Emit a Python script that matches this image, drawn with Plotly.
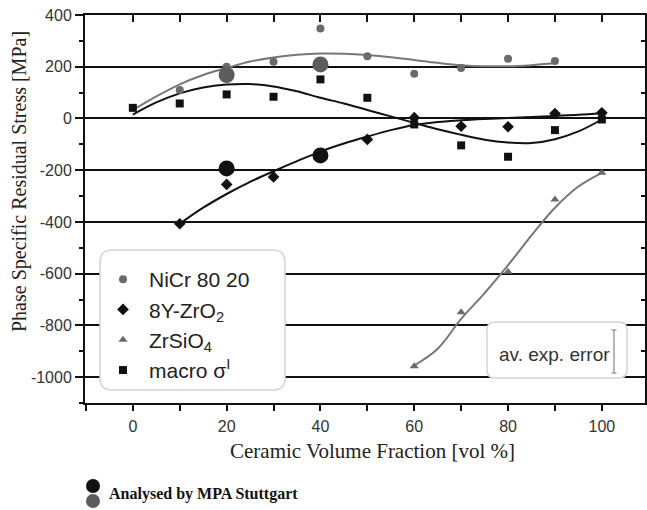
import plotly.graph_objects as go

# ---------------- data ----------------
nicr_x = [10, 20, 30, 40, 50, 60, 70, 80, 90]
nicr_y = [110, 200, 219, 348, 241, 173, 195, 231, 222]

zro2_x = [10, 20, 30, 50, 60, 70, 80, 90, 100]
zro2_y = [-407, -255, -226, -81, 3, -30, -32, 19, 22]

zrsio4_x = [60, 70, 80, 90, 100]
zrsio4_y = [-958, -749, -593, -313, -210]

macro_x = [0, 10, 20, 30, 40, 50, 60, 70, 80, 90, 100]
macro_y = [41, 58, 93, 84, 151, 80, -23, -104, -148, -45, -4]

mpa_black_x = [20, 40]
mpa_black_y = [-193, -143]
mpa_gray_x = [20, 40]
mpa_gray_y = [168, 209]

# fitted trend curves
nicr_fit_x = [0, 5, 10, 15, 20, 25, 30, 35, 40, 45, 50, 55, 60, 65, 70, 75, 80, 85, 90]
nicr_fit_y = [32, 85, 132, 168, 195, 220, 236, 246, 251, 250, 245, 237, 226, 215, 206, 202, 202, 206, 213]

macro_fit_x = [0, 5, 10, 15, 20, 25, 30, 35, 40, 45, 50, 55, 60, 65, 70, 75, 80, 85, 90, 95, 100]
macro_fit_y = [15, 62, 97, 120, 131, 133, 124, 105, 80, 58, 33, 8, -17, -42, -63, -82, -93, -95, -80, -50, -4]

zro2_fit_x = [10, 15, 20, 25, 30, 35, 40, 45, 50, 55, 60, 65, 70, 75, 80, 85, 90, 95, 100]
zro2_fit_y = [-407, -345, -292, -245, -204, -165, -128, -97, -70, -45, -25, -14, -7, -2, 2, 6, 10, 14, 20]

zrsio4_fit_x = [60, 65, 70, 75, 80, 85, 90, 95, 100]
zrsio4_fit_y = [-955, -890, -775, -675, -567, -452, -345, -263, -210]

legend_names = ["NiCr 80 20", "8Y-ZrO<sub>2</sub>", "ZrSiO<sub>4</sub>", "macro σ<sup>I</sup>"]

x_tickvals = [0, 20, 40, 60, 80, 100]
x_ticktext = ["0", "20", "40", "60", "80", "100"]
y_tickvals = [400, 200, 0, -200, -400, -600, -800, -1000]
y_ticktext = ["400", "200", "0", "-200", "-400", "-600", "-800", "-1000"]

x_title = "Ceramic Volume Fraction [vol %]"
y_title = "Phase Specific Residual Stress [MPa]"
note_text = "Analysed by MPA Stuttgart"
err_text = "av. exp. error"

# ---------------- styling ----------------
GRAY = "#6a6a6a"
LGRAY = "#777777"
BLACK = "#111111"
W, H = 647, 510
ML, MR, MT, MB = 85, 2, 15, 107
PW, PH = W - ML - MR, H - MT - MB


def px(x):
    return (x - ML) / PW


def py(y):
    return 1 - (y - MT) / PH


def rrect(x0, y0, x1, y1, r):
    return (
        f"M {px(x0 + r)},{py(y0)} L {px(x1 - r)},{py(y0)} "
        f"Q {px(x1)},{py(y0)} {px(x1)},{py(y0 + r)} "
        f"L {px(x1)},{py(y1 - r)} Q {px(x1)},{py(y1)} {px(x1 - r)},{py(y1)} "
        f"L {px(x0 + r)},{py(y1)} Q {px(x0)},{py(y1)} {px(x0)},{py(y1 - r)} "
        f"L {px(x0)},{py(y0 + r)} Q {px(x0)},{py(y0)} {px(x0 + r)},{py(y0)} Z"
    )


fig = go.Figure()

# curves
fig.add_trace(go.Scatter(x=nicr_fit_x, y=nicr_fit_y, mode="lines", line=dict(color=LGRAY, width=2, shape="spline"), showlegend=False, hoverinfo="skip"))
fig.add_trace(go.Scatter(x=macro_fit_x, y=macro_fit_y, mode="lines", line=dict(color=BLACK, width=2, shape="spline"), showlegend=False, hoverinfo="skip"))
fig.add_trace(go.Scatter(x=zro2_fit_x, y=zro2_fit_y, mode="lines", line=dict(color=BLACK, width=2, shape="spline"), showlegend=False, hoverinfo="skip"))
fig.add_trace(go.Scatter(x=zrsio4_fit_x, y=zrsio4_fit_y, mode="lines", line=dict(color=LGRAY, width=2, shape="spline"), showlegend=False, hoverinfo="skip"))

# markers
fig.add_trace(go.Scatter(x=nicr_x, y=nicr_y, mode="markers", name=legend_names[0],
                         marker=dict(symbol="circle", size=8, color=GRAY)))
fig.add_trace(go.Scatter(x=zro2_x, y=zro2_y, mode="markers", name=legend_names[1],
                         marker=dict(symbol="diamond", size=9, color=BLACK)))
fig.add_trace(go.Scatter(x=zrsio4_x, y=zrsio4_y, mode="markers", name=legend_names[2],
                         marker=dict(symbol="triangle-up", size=8, color=GRAY)))
fig.add_trace(go.Scatter(x=macro_x, y=macro_y, mode="markers", name=legend_names[3],
                         marker=dict(symbol="square", size=8, color=BLACK)))
fig.add_trace(go.Scatter(x=mpa_black_x, y=mpa_black_y, mode="markers", showlegend=False,
                         marker=dict(symbol="circle", size=16, color=BLACK)))
fig.add_trace(go.Scatter(x=mpa_gray_x, y=mpa_gray_y, mode="markers", showlegend=False,
                         marker=dict(symbol="circle", size=16, color="#5c5c5c")))

# dummy trace for mirrored top/right axes
fig.add_trace(go.Scatter(x=[None], y=[None], xaxis="x2", yaxis="y2", showlegend=False, hoverinfo="skip"))

XR = [-10.2, 109.2]
YR = [-1100, 400]
tickfont = dict(family="Liberation Sans, Arial", size=16, color="#333333")

fig.update_layout(
    width=W, height=H,
    margin=dict(l=ML, r=MR, t=MT, b=MB),
    paper_bgcolor="white", plot_bgcolor="white",
    xaxis=dict(range=XR, tickmode="array", tickvals=x_tickvals, ticktext=x_ticktext,
               ticks="outside", ticklen=6, tickwidth=2, tickcolor=BLACK,
               minor=dict(tick0=0, dtick=10, ticks="outside", ticklen=6, tickwidth=2, tickcolor=BLACK),
               showline=True, linewidth=2, linecolor=BLACK, showgrid=False, zeroline=False,
               tickfont=tickfont, ticklabelstandoff=2),
    yaxis=dict(range=YR, tickmode="array", tickvals=y_tickvals, ticktext=y_ticktext,
               ticks="outside", ticklen=8, tickwidth=2, tickcolor=BLACK,
               minor=dict(tick0=0, dtick=100, ticks="outside", ticklen=4, tickwidth=2, tickcolor=BLACK),
               showline=True, linewidth=2, linecolor=BLACK, showgrid=True, gridcolor=BLACK, gridwidth=2,
               zeroline=False, tickfont=tickfont),
    xaxis2=dict(range=XR, overlaying="x", side="top", tick0=0, dtick=10, ticks="inside", ticklen=7,
                tickwidth=2, tickcolor=BLACK, showticklabels=False, showline=True, linewidth=2,
                linecolor=BLACK, showgrid=False, zeroline=False),
    yaxis2=dict(range=YR, overlaying="y", side="right", tick0=0, dtick=100, ticks="inside", ticklen=4,
                tickwidth=2, tickcolor=BLACK, showticklabels=False, showline=True, linewidth=2,
                linecolor=BLACK, showgrid=False, zeroline=False),
    legend=dict(x=px(97), y=py(259), xanchor="left", yanchor="top", bgcolor="rgba(0,0,0,0)",
                borderwidth=0, font=dict(family="Liberation Sans, Arial", size=21, color="#222222"),
                tracegroupgap=0, itemwidth=42),
    showlegend=True,
)

# rounded boxes
fig.add_shape(type="path", path=rrect(100, 250, 285, 390, 12), xref="paper", yref="paper",
              fillcolor="white", line=dict(color="#d4d4d4", width=1.5), layer="above")
fig.add_shape(type="path", path=rrect(487, 322, 627, 378, 8), xref="paper", yref="paper",
              fillcolor="white", line=dict(color="#d4d4d4", width=1.5), layer="above")

# error bar inside box
fig.add_shape(type="line", x0=px(614), x1=px(614), y0=py(330), y1=py(373), xref="paper", yref="paper",
              line=dict(color="#888888", width=1.2), layer="above")
for yy in (330, 373):
    fig.add_shape(type="line", x0=px(611.5), x1=px(616.5), y0=py(yy), y1=py(yy), xref="paper", yref="paper",
                  line=dict(color="#888888", width=1.2), layer="above")

fig.add_annotation(x=px(554), y=py(354), xref="paper", yref="paper", xanchor="center", yanchor="middle",
                   text=err_text, showarrow=False,
                   font=dict(family="Liberation Sans, Arial", size=19, color="#333333"))

# axis titles
fig.add_annotation(x=px(372), y=py(451), xref="paper", yref="paper", xanchor="center", yanchor="middle",
                   text=x_title, showarrow=False,
                   font=dict(family="Liberation Serif, Times New Roman", size=21, color="#222222"))
fig.add_annotation(x=px(19), y=py(182), xref="paper", yref="paper", xanchor="center", yanchor="middle",
                   text=y_title, showarrow=False, textangle=-90,
                   font=dict(family="Liberation Serif, Times New Roman", size=20, color="#222222"))

# note at bottom
fig.add_shape(type="circle", x0=px(86), x1=px(100), y0=py(479), y1=py(493), xref="paper", yref="paper",
              fillcolor=BLACK, line=dict(width=0))
fig.add_shape(type="circle", x0=px(86), x1=px(100), y0=py(494), y1=py(508), xref="paper", yref="paper",
              fillcolor="#5c5c5c", line=dict(width=0))
fig.add_annotation(x=px(107), y=py(494), xref="paper", yref="paper", xanchor="left", yanchor="middle",
                   text=f"<b>{note_text}</b>", showarrow=False,
                   font=dict(family="Liberation Serif, Times New Roman", size=16, color=BLACK))

fig.write_html("out.html")
